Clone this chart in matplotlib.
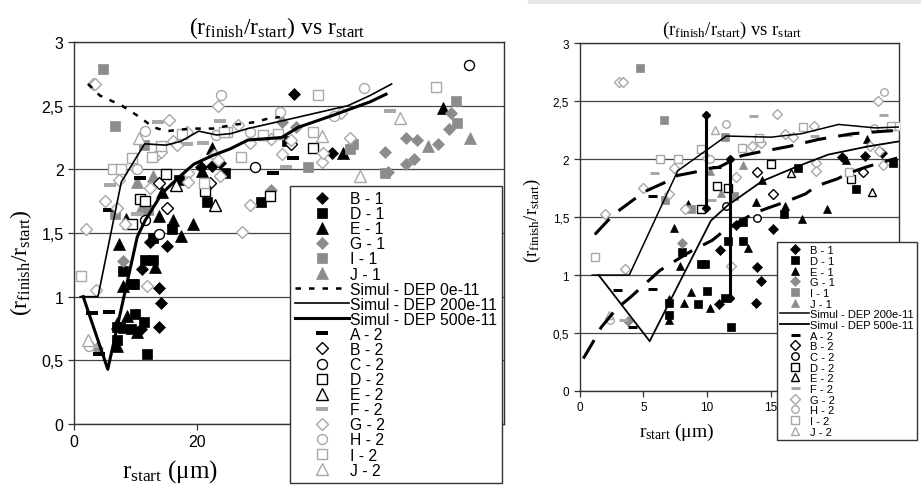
import matplotlib
matplotlib.use("Agg")
import matplotlib.pyplot as plt
from matplotlib.patches import Rectangle
from matplotlib.ticker import FuncFormatter

plt.rcParams['font.family'] = ['Liberation Sans', 'DejaVu Sans']
plt.rcParams['mathtext.fontset'] = 'custom'
plt.rcParams['mathtext.rm'] = 'Liberation Serif'
plt.rcParams['mathtext.it'] = 'Liberation Serif:italic'

# ---- measured points (r_start in um, r_finish/r_start) ----
b1_x = [11.0, 12.3, 13.9, 14.2, 13.8, 10.9, 15.2, 20.6, 22.4, 23.7, 35.8, 42.0]
b1_y = [1.22, 1.43, 1.07, 0.95, 0.76, 0.75, 1.40, 2.02, 2.03, 2.05, 2.59, 2.13]
d1_x = [8.0, 9.5, 9.8, 11.6, 12.8, 12.85, 10.0, 9.3, 11.4, 7.0, 7.0, 11.9, 16.0, 17.1, 21.7, 24.6, 30.5, 34.6]
d1_y = [1.20, 1.10, 1.10, 1.29, 1.29, 1.46, 0.86, 0.75, 0.80, 0.76, 0.66, 0.55, 1.53, 1.92, 1.74, 1.97, 1.74, 2.22]
e1_x = [7.4, 8.5, 7.9, 8.7, 8.2, 10.2, 7.0, 7.0, 13.2, 14.3, 13.8, 16.1, 17.4, 19.4, 20.9, 22.5, 43.8, 60.0]
e1_y = [1.41, 1.61, 1.08, 0.85, 0.76, 0.72, 0.61, 0.79, 1.23, 1.82, 1.63, 1.60, 1.48, 1.57, 1.99, 2.17, 2.13, 2.48]
g1_x = [8.0, 3.8, 32.1, 33.9, 36.2, 50.6, 51.1, 54.0, 55.8, 54.0, 55.3, 59.2, 61.0, 61.4]
g1_y = [1.28, 0.60, 1.84, 2.37, 2.33, 2.14, 1.98, 2.25, 2.23, 2.04, 2.08, 2.20, 2.32, 2.44]
i1_x = [4.75, 6.6, 11.4, 6.7, 8.7, 12.1, 38.1, 44.9, 45.4, 50.6, 62.2, 62.4]
i1_y = [2.79, 2.34, 2.19, 1.65, 1.57, 1.68, 2.02, 2.16, 2.20, 1.97, 2.54, 2.36]
j1_x = [10.2, 11.1, 12.8, 57.6, 64.4]
j1_y = [1.90, 1.71, 1.95, 2.18, 2.25]

a2_x = [2.9, 5.7, 4.1, 5.7, 10.7, 32.4, 35.7]
a2_y = [0.87, 0.88, 0.55, 1.68, 1.93, 1.97, 2.09]
b2_x = [13.9, 15.2, 22.2, 35.3]
b2_y = [1.89, 1.70, 1.89, 2.20]
c2_x = [11.5, 13.9, 29.5, 64.3]
c2_y = [1.60, 1.49, 2.02, 2.82]
d2_x = [10.8, 11.6, 9.5, 15.0, 21.3, 31.9, 38.9]
d2_y = [1.77, 1.75, 1.57, 1.96, 1.83, 1.79, 2.17]
e2_x = [16.6, 22.9]
e2_y = [1.88, 1.72]
f2_x = [5.8, 10.3, 3.4, 13.6, 18.4, 21.0, 23.8, 34.5, 51.4]
f2_y = [1.88, 1.65, 0.61, 2.37, 2.20, 2.21, 2.38, 2.02, 2.46]
g2_x = [3.1, 3.4, 7.4, 5.0, 7.0, 2.0, 3.6, 8.3, 10.0, 12.3, 11.9, 13.5, 14.2, 16.1, 16.7, 15.5, 18.4,
        18.5, 18.5, 22.8, 23.5, 23.8, 23.4, 26.7, 28.6, 32.0, 33.8, 35.4, 40.3, 40.5, 43.5, 44.9, 28.6, 27.3]
g2_y = [2.67, 2.67, 1.92, 1.75, 1.70, 1.53, 1.05, 1.57, 2.01, 1.85, 1.08, 2.11, 2.14, 2.22, 2.19, 2.39, 2.29,
        1.97, 1.90, 2.11, 2.07, 1.95, 2.50, 2.35, 2.21, 2.24, 2.12, 2.23, 2.06, 2.13, 2.44, 2.25, 1.72, 1.51]
h2_x = [2.4, 11.5, 10.2, 23.9, 23.1, 28.6, 33.6, 42.4, 47.2]
h2_y = [0.61, 2.30, 2.00, 2.58, 2.27, 2.29, 2.45, 2.42, 2.64]
i2_x = [1.2, 6.3, 7.7, 9.5, 12.7, 14.1, 17.5, 24.9, 21.1, 24.4, 27.2, 30.8, 33.2, 38.9, 39.7, 59.0]
i2_y = [1.16, 2.00, 2.00, 2.09, 2.10, 2.18, 2.28, 2.29, 1.89, 2.29, 2.10, 2.27, 2.28, 2.29, 2.58, 2.65]
j2_x = [10.6, 2.3, 40.3, 46.5, 53.0]
j2_y = [2.25, 0.66, 2.26, 1.95, 2.40]

# ---- simulation curves ----
dep0_x = [2.3, 4.2, 7.8, 10.7, 12.9, 15.1, 19.0, 22.6, 26.0, 29.4, 31.7, 33.5]
dep0_y = [2.67, 2.58, 2.50, 2.41, 2.33, 2.30, 2.32, 2.32, 2.35, 2.37, 2.40, 2.41]
dep200_x = [1.0, 3.9, 7.7, 11.5, 15.0, 17.4, 20.3, 23.2, 25.5, 28.3, 33.8, 39.2, 44.6, 48.2, 51.7]
dep200_y = [1.0, 1.0, 1.9, 2.2, 2.19, 2.22, 2.30, 2.27, 2.28, 2.32, 2.38, 2.44, 2.50, 2.58, 2.67]
dep500_x = [1.5, 5.5, 10.3, 11.6, 14.3, 16.9, 19.5, 22.6, 25.4, 28.3, 33.8, 36.5, 41.9, 48.2, 50.8]
dep500_y = [1.0, 0.43, 1.47, 1.6, 1.81, 1.93, 2.04, 2.11, 2.16, 2.23, 2.25, 2.33, 2.42, 2.53, 2.59]

# extra curves of the zoomed panel
fitup_x = [1.2, 2.3, 3.0, 4.35, 5.3, 6.7, 7.7, 9.1, 10.1, 10.9, 12.7, 14.0, 16.4, 18.7, 21.4, 23.7, 25.1]
fitup_y = [1.35, 1.48, 1.55, 1.66, 1.73, 1.80, 1.86, 1.89, 1.92, 1.93, 2.03, 2.06, 2.11, 2.17, 2.22, 2.24, 2.25]
fitlo_x = [0.3, 1.1, 1.7, 2.9, 4.0, 5.3, 6.3, 7.75, 8.8, 10.4, 11.3, 12.5, 13.8, 14.8, 16.1, 17.7, 18.6, 20.2, 21.1, 22.4, 23.6, 24.9]
fitlo_y = [0.28, 0.43, 0.55, 0.71, 0.81, 0.94, 1.04, 1.14, 1.21, 1.30, 1.38, 1.46, 1.54, 1.58, 1.63, 1.70, 1.77, 1.83, 1.88, 1.93, 1.97, 2.01]
bar_x = [9.95, 11.8]
bar_lo = [1.58, 0.80]
bar_hi = [2.38, 2.00]

series1 = [('B - 1', b1_x, b1_y), ('D - 1', d1_x, d1_y), ('E - 1', e1_x, e1_y),
           ('G - 1', g1_x, g1_y), ('I - 1', i1_x, i1_y), ('J - 1', j1_x, j1_y)]
series2 = [('A - 2', a2_x, a2_y), ('B - 2', b2_x, b2_y), ('C - 2', c2_x, c2_y),
           ('D - 2', d2_x, d2_y), ('E - 2', e2_x, e2_y), ('F - 2', f2_x, f2_y),
           ('G - 2', g2_x, g2_y), ('H - 2', h2_x, h2_y), ('I - 2', i2_x, i2_y), ('J - 2', j2_x, j2_y)]

grey = '#8c8c8c'
lgrey = '#a8a8a8'
styles = {
    'B - 1': ('D', 'black', 'black'), 'D - 1': ('s', 'black', 'black'), 'E - 1': ('^', 'black', 'black'),
    'G - 1': ('D', grey, grey), 'I - 1': ('s', grey, grey), 'J - 1': ('^', grey, grey),
    'A - 2': ('_', 'black', 'black'), 'B - 2': ('D', 'white', 'black'), 'C - 2': ('o', 'white', 'black'),
    'D - 2': ('s', 'white', 'black'), 'E - 2': ('^', 'white', 'black'), 'F - 2': ('_', lgrey, lgrey),
    'G - 2': ('D', 'white', lgrey), 'H - 2': ('o', 'white', lgrey), 'I - 2': ('s', 'white', lgrey),
    'J - 2': ('^', 'white', lgrey),
}
mscale = {'D': 0.85, 's': 0.95, '^': 1.1, 'o': 1.0, '_': 1.2}

W, H = 921, 489
fig = plt.figure(figsize=(W / 100, H / 100), dpi=100)
fig.patches.append(Rectangle((528 / W, 1 - 4 / H), (W - 528) / W, 4 / H,
                             transform=fig.transFigure, color='#e8e8e8', zorder=0))


def fx(px):
    return px / W


def fy(py):
    return 1 - py / H


comma = FuncFormatter(lambda v, p: ('%g' % v).replace('.', ','))


def setup(ax, xmax, xstep, labsize, hidden=()):
    ax.set_xlim(0, xmax)
    ax.set_ylim(0, 3)
    xt = list(range(0, xmax + 1, xstep))
    ax.set_xticks(xt)
    # labels lying under the legend box are not seen in the original
    ax.set_xticklabels(['' if v in hidden else str(v) for v in xt])
    ax.set_yticks([0, 0.5, 1, 1.5, 2, 2.5, 3])
    ax.yaxis.set_major_formatter(comma)
    ax.grid(axis='y', color='#444444', lw=0.9)
    ax.set_axisbelow(True)
    for s in ax.spines.values():
        s.set_color('#333333')
        s.set_linewidth(1.0)
    ax.tick_params(labelsize=labsize, length=4, width=0.9, color='#333333', direction='out')


def draw_points(ax, ms):
    out = {}
    for name, xs, ys in series1 + series2:
        m, fc, ec = styles[name]
        if m == '_':
            mew = ms * 0.4
        elif fc == 'white':
            mew = 1.0
        else:
            mew = 0.5
        ln, = ax.plot(xs, ys, ls='none', marker=m, ms=ms * mscale[m], mfc=fc, mec=ec,
                      mew=mew, label=name, zorder=3)
        out[name] = ln
    return out


# ---------------- left panel ----------------
axL = fig.add_axes([fx(74), fy(425), (504 - 74) / W, (425 - 43) / H])
setup(axL, 70, 20, 11.5, hidden=(40, 60))
ptsL = draw_points(axL, 7.2)
l0, = axL.plot(dep0_x, dep0_y, color='black', lw=1.8, dashes=(2.2, 3.2), label='Simul - DEP 0e-11', zorder=4)
l200, = axL.plot(dep200_x, dep200_y, color='black', lw=1.2, label='Simul - DEP 200e-11', zorder=4)
l500, = axL.plot(dep500_x, dep500_y, color='black', lw=2.2, label='Simul - DEP 500e-11', zorder=4)

handlesL = [ptsL[n] for n, _, _ in series1] + [l0, l200, l500] + [ptsL[n] for n, _, _ in series2]
legL = axL.legend(handles=handlesL, loc='upper left', bbox_to_anchor=(fx(290), fy(187)),
                  bbox_transform=fig.transFigure, borderaxespad=0, fontsize=11.3,
                  labelspacing=0.005, handlelength=3.4, handletextpad=0.1, borderpad=0.33,
                  fancybox=False, framealpha=1, edgecolor='#333333')
legL.get_frame().set_linewidth(1.0)

fig.text(fx(277), fy(28), r'$\mathrm{(r_{finish}/r_{start})\ vs\ r_{start}}$', ha='center', va='center', fontsize=17)
fig.text(fx(21), fy(263), r'$\mathrm{(r_{finish}/r_{start})}$', ha='center', va='center',
         rotation=90, fontsize=17)
fig.text(fx(170), fy(472), r'r$_{\mathrm{start}}$ (μm)', ha='center', va='center', fontsize=18,
         family='Liberation Serif')

# ---------------- right panel ----------------
axR = fig.add_axes([fx(579.5), fy(392), (898.5 - 579.5) / W, (392 - 44.3) / H])
setup(axR, 25, 5, 8.5, hidden=(20, 25))
ptsR = draw_points(axR, 5.4)
axR.plot(fitup_x, fitup_y, color='black', lw=2.2, dashes=(7, 4), zorder=4)
axR.plot(fitlo_x, fitlo_y, color='black', lw=2.2, dashes=(7, 4), zorder=4)
for bx, lo, hi in zip(bar_x, bar_lo, bar_hi):
    axR.plot([bx, bx], [lo, hi], color='black', lw=2.2, marker='D', ms=4, zorder=4)
r200, = axR.plot(dep200_x, dep200_y, color='black', lw=1.1, label='Simul - DEP 200e-11', zorder=4)
r500, = axR.plot(dep500_x, dep500_y, color='black', lw=1.3, label='Simul - DEP 500e-11', zorder=4)

handlesR = [ptsR[n] for n, _, _ in series1] + [r200, r500] + [ptsR[n] for n, _, _ in series2]
legR = axR.legend(handles=handlesR, loc='upper left', bbox_to_anchor=(fx(777), fy(243)),
                  bbox_transform=fig.transFigure, borderaxespad=0, fontsize=8.0,
                  labelspacing=0.06, handlelength=2.6, handletextpad=0.1, borderpad=0.3,
                  fancybox=False, framealpha=1, edgecolor='#333333')
legR.get_frame().set_linewidth(1.0)

fig.text(fx(732), fy(30), r'$\mathrm{(r_{finish}/r_{start})\ vs\ r_{start}}$', ha='center', va='center', fontsize=13.5)
fig.text(fx(532), fy(220), r'$\mathrm{(r_{finish}/r_{start})}$', ha='center', va='center',
         rotation=90, fontsize=13.5)
fig.text(fx(677), fy(432), r'r$_{\mathrm{start}}$ (μm)', ha='center', va='center', fontsize=14,
         family='Liberation Serif')

fig.savefig('out.png', dpi=100)
